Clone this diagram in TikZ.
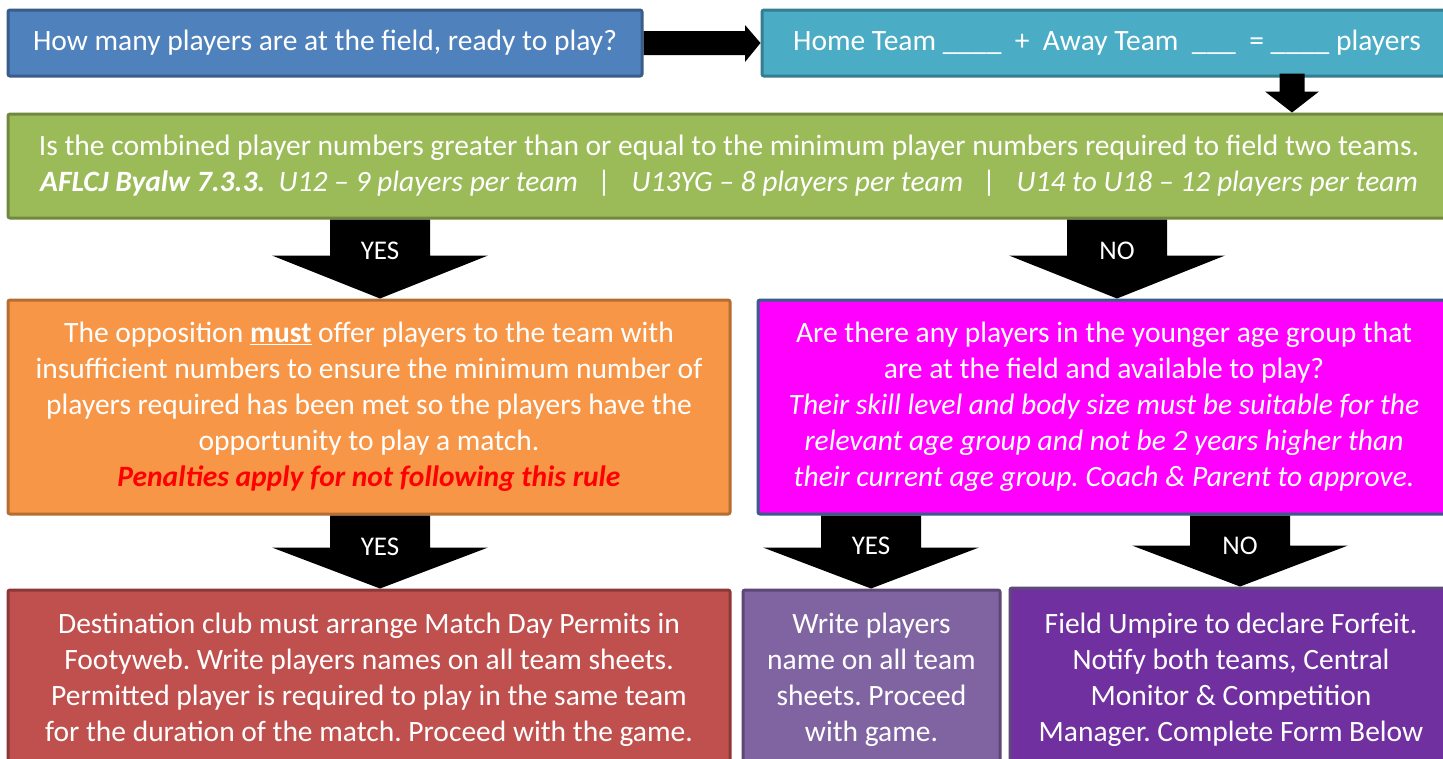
\documentclass[tikz,border=0pt]{standalone}
\usepackage{fontspec}
\setmainfont{Carlito}
\usetikzlibrary{calc}
\frenchspacing
\definecolor{cBlue}{HTML}{4F81BD}\definecolor{cBlueD}{HTML}{385D8A}
\definecolor{cTeal}{HTML}{4BACC6}\definecolor{cTealD}{HTML}{357D91}
\definecolor{cGreen}{HTML}{9BBB59}\definecolor{cGreenD}{HTML}{71893F}
\definecolor{cOrange}{HTML}{F79646}\definecolor{cOrangeD}{HTML}{B66D31}
\definecolor{cMag}{HTML}{FF00FF}
\definecolor{cRed}{HTML}{C0504D}\definecolor{cRedD}{HTML}{8C3836}
\definecolor{cLPur}{HTML}{8064A2}\definecolor{cLPurD}{HTML}{5C4776}
\definecolor{cPur}{HTML}{7030A0}\definecolor{cPurD}{HTML}{5F497A}
\definecolor{cPen}{HTML}{FF0000}
\newcommand\blkdown[5]{%
  \fill ($(#1)+(-#3,0)$) -- ($(#1)+(#3,0)$) -- ($(#2)+(#3,-#5)$) -- ($(#2)+(#4,-#5)$) -- (#2) -- ($(#2)+(-#4,-#5)$) -- ($(#2)+(-#3,-#5)$) -- cycle;}
\begin{document}
\begin{tikzpicture}[x=1pt,y=-1pt,
  box/.style={draw, line width=3pt, rounded corners=2pt, text=white, align=center,
     inner sep=0pt, font=\frenchspacing\fontsize{29.5}{36}\selectfont},
  lbl/.style={text=white, font=\fontsize{27}{30}\selectfont, inner sep=0pt}]
\useasboundingbox (0,0) rectangle (1443,758);
\fill[white] (0,0) rectangle (1443,758);
% boxes
\node[box, fill=cBlue, draw=cBlueD, minimum width=634pt, minimum height=66pt] (blue) at (325,43)
  {How many players are at the field, ready to play?};
\node[box, fill=cTeal, draw=cTealD, minimum width=690pt, minimum height=66pt] (teal) at (1107,43)
  {Home Team \_\_\_\_\ \ +\ \ Away Team\ \ \_\_\_\ \ =\ \_\_\_\_ players};
\node[box, fill=cGreen, draw=cGreenD, minimum width=1442pt, minimum height=104pt] (green) at (729,166)
  {Is the combined player numbers greater than or equal to the minimum player numbers required to field two teams.\\
   {\bfseries\itshape AFLCJ Byalw 7.3.3.}\itshape\ \ U12 -- 9 players per team\ \ \ |\ \ \ U13YG -- 8 players per team\ \ \ |\ \ \ U14 to U18 -- 12 players per team};
\node[box, fill=cOrange, draw=cOrangeD, minimum width=722pt, minimum height=214pt] (orange) at (369,407)
  {The opposition \underline{\textbf{must}} offer players to the team with\\
   insufficient numbers to ensure the minimum number of\\
   players required has been met so the players have the\\
   opportunity to play a match.\\
   \textcolor{cPen}{\bfseries\itshape Penalties apply for not following this rule}};
\node[box, fill=cMag, draw=cBlueD, minimum width=692pt, minimum height=214pt] (mag) at (1104,407)
  {Are there any players in the younger age group that\\
   are at the field and available to play?\\
   \itshape Their skill level and body size must be suitable for the\\
   \itshape relevant age group and not be 2 years higher than\\
   \itshape their current age group. Coach \& Parent to approve.};
\node[box, fill=cRed, draw=cRedD, minimum width=722pt, minimum height=180pt] (red) at (369,680)
  {Destination club must arrange Match Day Permits in\\
   Footyweb. Write players names on all team sheets.\\
   Permitted player is required to play in the same team\\
   for the duration of the match. Proceed with the game.};
\node[box, fill=cLPur, draw=cLPurD, minimum width=257pt, minimum height=180pt] (lpur) at (871.5,680)
  {Write players\\ name on all team\\ sheets. Proceed\\ with game.};
\node[box, fill=cPur, draw=cPurD, minimum width=442pt, minimum height=184pt] (pur) at (1231,680)
  {Field Umpire to declare Forfeit.\\ Notify both teams, Central\\ Monitor \& Competition\\ Manager. Complete Form Below};
% right arrow blue -> teal
\fill (blue.east |- 0,31) -- (745,31) -- (745,25) -- (teal.west) -- (745,62) -- (745,55) -- (blue.east |- 0,55) -- cycle;
% teal -> green
\coordinate (xa) at (1292,0);
\coordinate (ta) at ($(teal.south -| xa)+(0,-4)$);
\coordinate (tb) at (green.north -| xa);
\blkdown{ta}{tb}{12.5}{27}{21}
% green -> orange (YES), green -> magenta (NO)
\coordinate (xb) at (380,0);
\coordinate (xc) at (1117,0);
\coordinate (xd) at (871,0);
\coordinate (xe) at (1240,0);
\coordinate (ya) at (green.south -| xb);
\coordinate (yb) at (orange.north -| xb);
\blkdown{ya}{yb}{50}{108}{43}
\node[lbl] (l1) at ($(ya)!0.40!(yb)$) {YES};
\coordinate (na) at (green.south -| xc);
\coordinate (nb) at (mag.north -| xc);
\blkdown{na}{nb}{50}{108}{43}
\node[lbl] (l2) at ($(na)!0.40!(nb)$) {NO};
% orange -> red
\coordinate (oa) at (orange.south -| xb);
\coordinate (ob) at (red.north -| xb);
\blkdown{oa}{ob}{50}{108}{41}
\node[lbl] (l3) at ($(oa)!0.43!(ob)$) {YES};
% magenta -> lpur, pur
\coordinate (ma) at (mag.south -| xd);
\coordinate (mb) at (lpur.north -| xd);
\blkdown{ma}{mb}{50}{108}{41}
\node[lbl] (l4) at ($(ma)!0.42!(mb)$) {YES};
\coordinate (pa) at (mag.south -| xe);
\coordinate (pb) at (pur.north -| xe);
\blkdown{pa}{pb}{50}{108}{41}
\node[lbl] (l5) at ($(pa)!0.43!(pb)$) {NO};
\end{tikzpicture}
\end{document}
